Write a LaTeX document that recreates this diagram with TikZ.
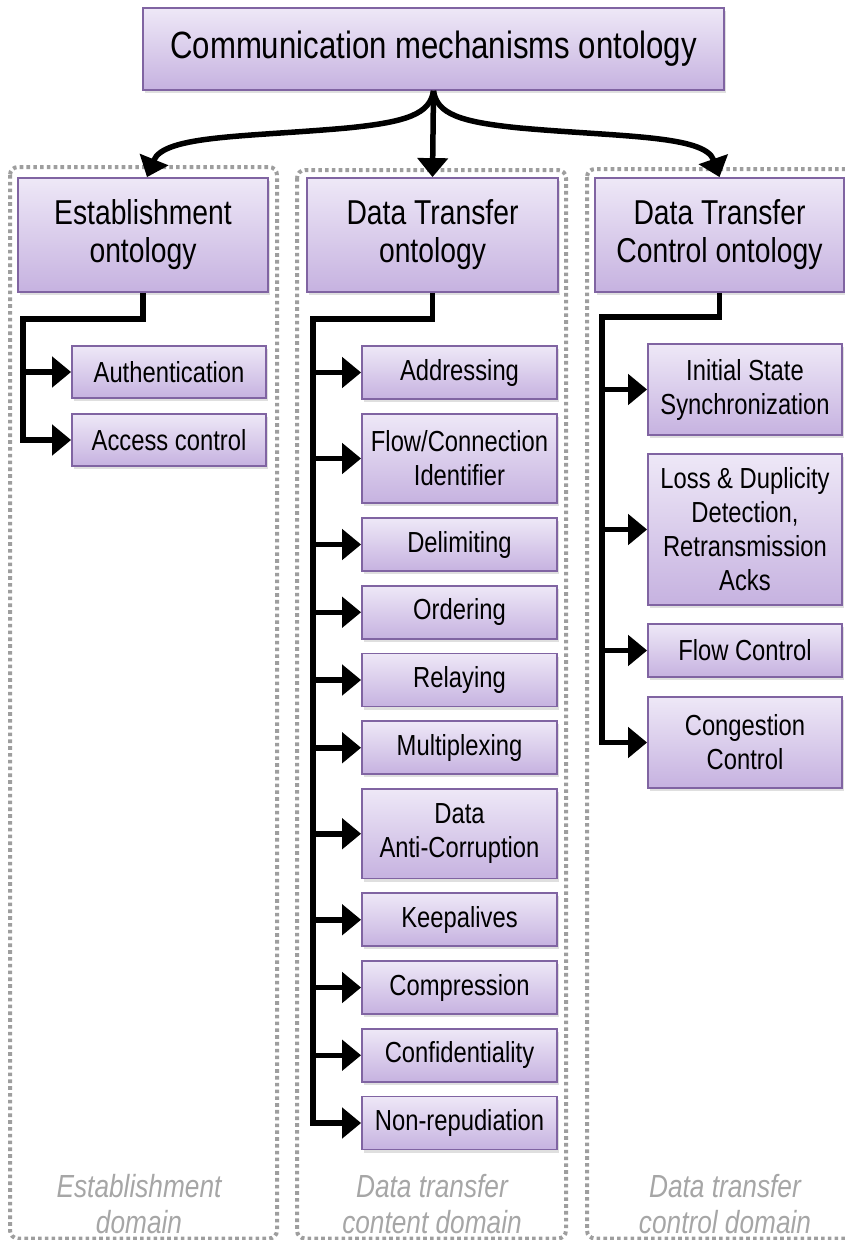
\documentclass[tikz,border=0pt]{standalone}
\usepackage{fontspec}
\setmainfont{Liberation Sans}[FakeStretch=0.82]
\usetikzlibrary{arrows.meta,shadows}

\definecolor{boxtop}{HTML}{EEE8F7}
\definecolor{boxbot}{HTML}{C6B2E0}
\definecolor{boxline}{HTML}{8064A2}
\definecolor{domgray}{HTML}{A6A6A6}

\tikzset{
  onto/.style={draw=boxline, line width=1.8pt, top color=boxtop, bottom color=boxbot,
    align=center, inner sep=0pt, text=black,
    drop shadow={shadow xshift=1.5pt, shadow yshift=-3pt, opacity=0.25}},
  rootbox/.style={onto, font=\fontsize{38}{42}\selectfont},
  midbox/.style={onto, font=\fontsize{34.5}{38}\selectfont, minimum height=114pt},
  leaf/.style={onto, font=\fontsize{29}{34}\selectfont},
  leafL/.style={leaf, minimum width=194pt},
  leafM/.style={leaf, minimum width=195pt},
  leafR/.style={leaf, minimum width=194pt},
  conn/.style={line width=5.5pt, line join=miter, line cap=butt},
  arr/.style={conn, -{Triangle[length=19pt,width=30pt]}},
  domframe/.style={draw=domgray!95!black, line width=4pt, dash pattern=on 3.6pt off 3.2pt,
    rounded corners=8pt},
  domlabel/.style={text=domgray, align=center, inner sep=0pt,
    font=\fontsize{32}{36}\selectfont\itshape}
}

\begin{document}
\begin{tikzpicture}[x=1pt,y=-1pt]
\clip (0,0) rectangle (845,1240);
\useasboundingbox (0,0) rectangle (845,1240);

% domain frames
\draw[domframe] (10,167) rectangle (277,1238.5);
\draw[domframe] (297,170) rectangle (566,1238.5);
\draw[domframe] (587,169) rectangle (880,1238.5);

% domain captions
\node[domlabel] (capE) at (139,1204) {Establishment\\domain};
\node[domlabel] (capC) at (432,1204) {Data transfer\\content domain};
\node[domlabel] (capT) at (725,1204) {Data transfer\\control domain};

% root
\node[rootbox, minimum width=581pt, minimum height=82pt] (root) at (433.5,49)
  {Communication mechanisms ontology};

% second level
\node[midbox, minimum width=250pt] (est) at (143,235) {Establishment\\ontology};
\node[midbox, minimum width=251pt] (dt) at (432.5,235) {Data Transfer\\ontology};
\node[midbox, minimum width=249pt] (dtc) at (719.5,235) {Data Transfer\\Control ontology};

% establishment leaves
\node[leafL, minimum height=52pt] (auth) at (169,372) {Authentication};
\node[leafL, minimum height=52pt] (acc) at (169,440) {Access control};

% data transfer content leaves
\node[leafM, minimum height=53pt] (addr) at (459.5,372.5) {Addressing};
\node[leafM, minimum height=89.5pt] (flow) at (459.5,458.5) {Flow/Connection\\Identifier};
\node[leafM, minimum height=53pt] (delim) at (459.5,544.5) {Delimiting};
\node[leafM, minimum height=53pt] (order) at (459.5,612.25) {Ordering};
\node[leafM, minimum height=53pt] (relay) at (459.5,680) {Relaying};
\node[leafM, minimum height=53pt] (mux) at (459.5,747.75) {Multiplexing};
\node[leafM, minimum height=89.5pt] (anti) at (459.5,833.75) {Data\\Anti-Corruption};
\node[leafM, minimum height=53pt] (keep) at (459.5,919.75) {Keepalives};
\node[leafM, minimum height=53pt] (comp) at (459.5,987.5) {Compression};
\node[leafM, minimum height=53pt] (conf) at (459.5,1055.25) {Confidentiality};
\node[leafM, minimum height=53pt] (nonrep) at (459.5,1123) {Non-repudiation};

% data transfer control leaves
\node[leafR, minimum height=91pt] (init) at (745,389.5) {Initial State\\Synchronization};
\node[leafR, minimum height=151pt] (loss) at (745,529.5)
  {Loss \& Duplicity\\Detection,\\Retransmission\\Acks};
\node[leafR, minimum height=53pt] (flowc) at (745,650.5) {Flow Control};
\node[leafR, minimum height=91pt] (cong) at (745,742.5) {Congestion\\Control};

% root to second level
\draw[arr] (root.south) .. controls (430,114) and (407,122) .. (347,128)
  .. controls (247,137) and (164,135) .. ([xshift=4pt]est.north);
\draw[arr] (root.south) -- (dt.north);
\draw[arr] (root.south) .. controls (437,114) and (460,122) .. (520,128)
  .. controls (620,137) and (705,135) .. (dtc.north);

% establishment tree
\coordinate (jE) at (23,319);
\draw[arr] (est.south) |- (jE) |- (acc.west);
\draw[arr] (jE |- auth.west) -- (auth.west);

% data transfer content tree
\coordinate (jC) at (313,319);
\draw[arr] (dt.south) |- (jC) |- (nonrep.west);
\foreach \n in {addr,flow,delim,order,relay,mux,anti,keep,comp,conf}
  \draw[arr] (jC |- \n.west) -- (\n.west);

% data transfer control tree
\coordinate (jT) at (602,317);
\draw[arr] (dtc.south) |- (jT) |- (cong.west);
\foreach \n in {init,loss,flowc}
  \draw[arr] (jT |- \n.west) -- (\n.west);
\end{tikzpicture}
\end{document}
